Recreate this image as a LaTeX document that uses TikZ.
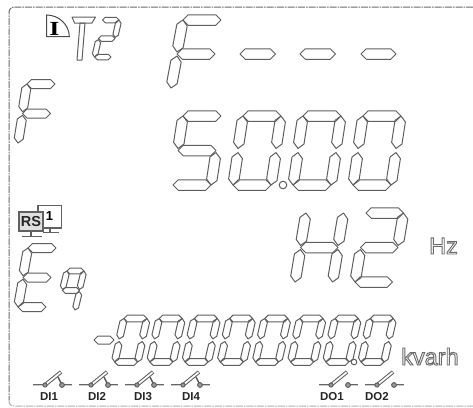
\documentclass[tikz,border=0pt]{standalone}
\usepackage{fontspec}
\setmainfont{Liberation Sans}
\newfontfamily\serifbold{Liberation Serif}
\definecolor{segcol}{HTML}{5F5F5F}
\tikzset{
  seg/.style={draw=segcol,line width=1pt,line join=round},
  framedark/.style={draw=black!58,line width=1pt,dash pattern=on 7pt off 1pt on 1.5pt off 1pt},
  framelight/.style={draw=black!30,line width=1pt,dash pattern=on 7pt off 1pt on 1.5pt off 1pt},
  smalllabel/.style={font=\bfseries\fontsize{11.5}{12}\selectfont,text=black!85,inner sep=0pt,anchor=base},
  biglabel/.style={font=\fontsize{23.5}{24}\selectfont,anchor=base west,inner sep=0pt},
  wirebase/.style={draw=black!60,line width=2.8pt},
  wiretop/.style={draw=black!20,line width=0.8pt},
  bladebase/.style={draw=black!62,line width=3.8pt},
  bladetop/.style={draw=white,line width=1.7pt},
  pivot/.style={draw=black!65,fill=black!40,line width=0.9pt},
  screen/.style={draw=black!62,line width=1.6pt}
}
% one hexagonal LCD segment from tip to tip
\newcommand\segm[5]{%
  \pgfmathsetmacro\segDx{#3-#1}\pgfmathsetmacro\segDy{#4-#2}%
  \pgfmathsetmacro\segLen{veclen(\segDx,\segDy)}%
  \pgfmathsetmacro\segUx{\segDx/\segLen}\pgfmathsetmacro\segUy{\segDy/\segLen}%
  \pgfmathsetmacro\segH{#5/2}%
  \draw[seg] (#1,#2)
    -- ({#1+\segH*\segUx-\segH*\segUy},{#2+\segH*\segUy+\segH*\segUx})
    -- ({#3-\segH*\segUx-\segH*\segUy},{#4-\segH*\segUy+\segH*\segUx})
    -- (#3,#4)
    -- ({#3-\segH*\segUx+\segH*\segUy},{#4-\segH*\segUy-\segH*\segUx})
    -- ({#1+\segH*\segUx+\segH*\segUy},{#2+\segH*\segUy-\segH*\segUx})
    -- cycle;}
% digit: A=(x,y), width, slant per half, half height, thickness, segments
\newcommand\SegA{\segm{\Ax}{\Ay}{\Bx}{\Ay}{\segT}}
\newcommand\SegB{\segm{\Bx}{\Ay}{\Dx}{\CyU}{\segT}}
\newcommand\SegC{\segm{\Dx}{\CyL}{\Fx}{\Ey}{\segT}}
\newcommand\SegD{\segm{\Ex}{\Ey}{\Fx}{\Ey}{\segT}}
\newcommand\SegE{\segm{\Cx}{\CyL}{\Ex}{\Ey}{\segT}}
\newcommand\SegF{\segm{\Ax}{\Ay}{\Cx}{\CyU}{\segT}}
\newcommand\SegG{\segm{\Cx}{\Cy}{\Dx}{\Cy}{\segT}}
\newcommand\digit[7]{%
  \pgfmathsetmacro\Ax{#1}\pgfmathsetmacro\Ay{#2}%
  \pgfmathsetmacro\Bx{#1+#3}%
  \pgfmathsetmacro\Cx{#1-#4}\pgfmathsetmacro\Cy{#2+#5}%
  \pgfmathsetmacro\CyU{\Cy-0.06*#5}\pgfmathsetmacro\CyL{\Cy+0.06*#5}%
  \pgfmathsetmacro\Dx{#1+#3-#4}%
  \pgfmathsetmacro\Ex{#1-2*#4}\pgfmathsetmacro\Ey{#2+2*#5}%
  \pgfmathsetmacro\Fx{#1+#3-2*#4}%
  \pgfmathsetmacro\segT{#6}%
  #7}
\newcommand\swbase[1]{%
  \draw[wirebase] (#1,385) -- (#1+12,385);
  \draw[wiretop] (#1,385) -- (#1+12,385);
  \draw[wirebase] (#1+31,385) -- (#1+39,385);
  \draw[wiretop] (#1+31,385) -- (#1+39,385);
  \draw[bladebase] (#1+12,385) -- (#1+28,372);
  \draw[bladetop] (#1+13,384.2) -- (#1+27.5,372.4);
  \filldraw[pivot] (#1+12,385) circle (2.1);
  \filldraw[pivot] (#1+29,385) circle (2.4);}
\newcommand\swin[1]{\swbase{#1}\draw[draw=black!65,line width=1.4pt] (#1+25,377) -- (#1+28,383);}
\newcommand\hollow[1]{\special{pdf:code q 1 Tr 0.95 w 0.42 G}#1\special{pdf:code 0 Tr Q}}
\begin{document}
\begin{tikzpicture}[x=1pt,y=-1pt]
\useasboundingbox (0,0) rectangle (473,407);
\fill[white] (0,0) rectangle (473,407);
% frame
\draw[framelight] (9,400) .. controls (9,404) and (10,406) .. (14,406) -- (473,406);
\draw[framedark] (473,7) -- (15,7) .. controls (11,7) and (9,9) .. (9,13) -- (9,400);
% quadrant icon
\draw[draw=black!70,line width=1pt] (46.7,15) .. controls (58.7,15) and (69.3,24.7) .. (69.3,36.7) -- (46.7,36.7) -- cycle;
\node[xscale=1.3,inner sep=0pt,font=\serifbold\bfseries\fontsize{20}{20}\selectfont,text=black] (iconI) at (54.5,28.5) {I};
% T2
\draw[seg] (72,17) -- (95.5,17) -- (92,23) -- (74.5,23) -- cycle;
\draw[seg] (80,23) -- (85,23) -- (82,60) -- (77,60) -- cycle;
\digit{102.5}{20}{16.5}{4}{18.5}{5.5}{\SegA\SegB\SegG\SegE\SegD}
% row 1: F - - -
\digit{183}{20}{38}{6}{34}{10.5}{\SegA\SegF\SegG\SegE}
\segm{240}{54}{275.5}{54}{10.5}
\segm{300}{54}{335.5}{54}{10.5}
\segm{361}{54}{396}{54}{10.5}
% left F
\digit{27}{84}{28}{4.5}{29.5}{9}{\SegA\SegF\SegG\SegE}
% row 2: 50.00
\digit{183}{116}{38}{5}{34.5}{10.5}{\SegA\SegF\SegG\SegC\SegD}
\digit{243}{116}{38}{5}{34.5}{10.5}{\SegA\SegB\SegC\SegD\SegE\SegF}
\digit{303}{116}{38}{5}{34.5}{10.5}{\SegA\SegB\SegC\SegD\SegE\SegF}
\digit{363}{116}{38}{5}{34.5}{10.5}{\SegA\SegB\SegC\SegD\SegE\SegF}
\draw[seg] (283,185) circle (3.8);
% row 3: H2
\digit{306}{213}{37.5}{5.5}{34.5}{10.5}{\SegB\SegC\SegE\SegF\SegG}
\digit{366}{213}{37.5}{5.5}{34.5}{10.5}{\SegA\SegB\SegG\SegE\SegD}
\node[biglabel,text=black!50] (hz) at (429,254) {\hollow{Hz}};
% RS monitors
\draw[screen,fill=white] (38,205.5) rectangle (61.5,228);
\draw[screen] (50,228) -- (50,232);
\draw[screen] (43,232.5) -- (59,232.5);
\node[inner sep=0pt,font=\bfseries\fontsize{13}{13}\selectfont,text=black] (one) at (49.5,216.5) {1};
\draw[screen,fill=black!12] (19,212) rectangle (43,231);
\draw[screen] (31,231) -- (31,236);
\draw[screen] (22,236.5) -- (42,236.5);
\node[inner sep=0pt,font=\bfseries\fontsize{14.5}{15}\selectfont,text=black!85] (rs) at (31,221.5) {RS};
% E q
\digit{28}{248}{28}{5}{29.5}{9}{\SegA\SegF\SegG\SegE\SegD}
\digit{67}{271}{17}{4.5}{19.5}{5.8}{\SegA\SegB\SegF\SegG\SegC}
% bottom number
\segm{94}{340}{114}{340}{8}
\digit{124}{318.5}{23}{4.7}{21.7}{6.8}{\SegA\SegB\SegC\SegD\SegE\SegF}
\digit{159.2}{318.5}{23}{4.7}{21.7}{6.8}{\SegA\SegB\SegC\SegD\SegE\SegF}
\digit{194.4}{318.5}{23}{4.7}{21.7}{6.8}{\SegA\SegB\SegC\SegD\SegE\SegF}
\digit{229.6}{318.5}{23}{4.7}{21.7}{6.8}{\SegA\SegB\SegC\SegD\SegE\SegF}
\digit{264.8}{318.5}{23}{4.7}{21.7}{6.8}{\SegA\SegB\SegC\SegD\SegE\SegF}
\digit{300}{318.5}{23}{4.7}{21.7}{6.8}{\SegA\SegB\SegC\SegD\SegE\SegF}
\digit{335.2}{318.5}{23}{4.7}{21.7}{6.8}{\SegA\SegB\SegC\SegD\SegE\SegF}
\digit{370.4}{318.5}{23}{4.7}{21.7}{6.8}{\SegA\SegB\SegC\SegD\SegE\SegF}
\draw[seg] (354,362) circle (2.8);
\node[biglabel,text=black!50] (kvarh) at (401,365) {\hollow{kvarh}};
% switches
\swin{33}\swin{79}\swin{125}\swin{171}
\swbase{319}\swbase{365}
\node[smalllabel] (di1) at (49,400.5) {DI1};
\node[smalllabel] (di2) at (97,400.5) {DI2};
\node[smalllabel] (di3) at (143,400.5) {DI3};
\node[smalllabel] (di4) at (191,400.5) {DI4};
\node[smalllabel] (do1) at (332,400.5) {DO1};
\node[smalllabel] (do2) at (377,400.5) {DO2};
\end{tikzpicture}
\end{document}
